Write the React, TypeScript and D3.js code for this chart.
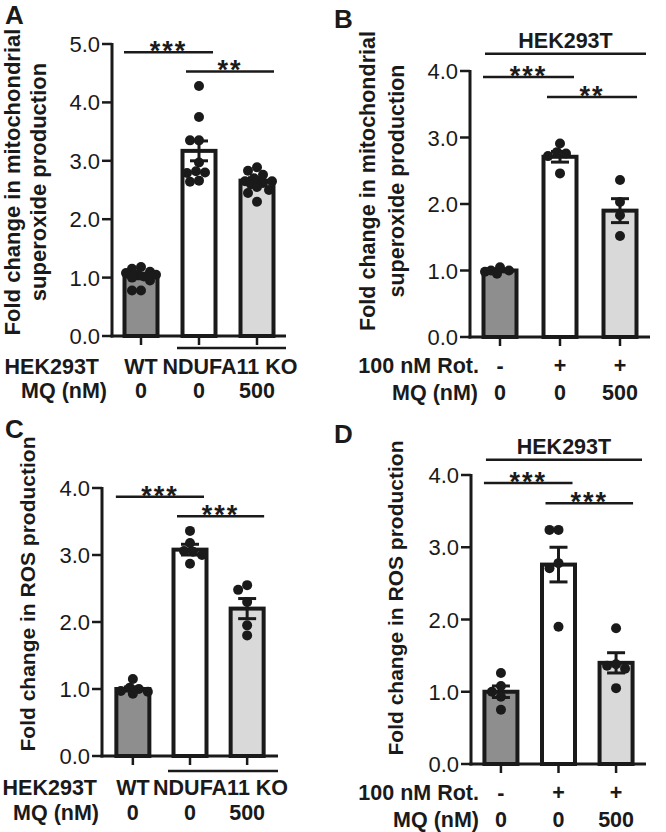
import React from "react";
import * as d3 from "d3";

// ---------------- DATA ----------------
const categories = ["g1", "g2", "g3"];
const yTicksA = [0, 1, 2, 3, 4, 5];
const yTicksBCD = [0, 1, 2, 3, 4];
const barFills = ["#8e8e8e", "#ffffff", "#d9d9d9"];

// Panel A: mitochondrial superoxide, WT vs NDUFA11 KO (+/- MQ)
const aPoints = [
  [1.05, 1.1, 1.02, 0.95, 1.15, 1.18, 1.05, 0.78, 0.78, 1.0, 1.08],
  [4.28, 3.75, 3.35, 3.35, 2.97, 2.82, 2.79, 2.8, 2.64, 2.66],
  [2.89, 2.83, 2.76, 2.7, 2.65, 2.62, 2.6, 2.55, 2.5, 2.45, 2.3, 2.65],
];
const aMeans = [1.02, 3.17, 2.66];
const aSems = [0.04, 0.17, 0.05];

// Panel B: HEK293T + rotenone
const bPoints = [
  [1.05, 1.0, 1.0, 0.95, 0.98],
  [2.91, 2.78, 2.76, 2.72, 2.46],
  [2.36, 2.03, 1.83, 1.52],
];
const bMeans = [1.0, 2.71, 1.9];
const bSems = [0.02, 0.08, 0.18];

// Panel C: ROS production, WT vs NDUFA11 KO
const cPoints = [
  [1.15, 1.02, 1.0, 0.96, 0.93, 0.97],
  [3.36, 3.18, 3.06, 3.05, 3.0, 2.87],
  [2.55, 2.48, 2.3, 1.95, 1.8],
];
const cMeans = [1.0, 3.08, 2.2];
const cSems = [0.03, 0.08, 0.15];

// Panel D: ROS production, HEK293T + rotenone
const dPoints = [
  [1.26, 1.08, 1.0, 0.93, 0.75],
  [3.24, 3.24, 2.78, 2.71, 1.9],
  [1.88, 1.38, 1.36, 1.32, 1.05],
];
const dMeans = [1.0, 2.76, 1.4];
const dSems = [0.08, 0.24, 0.14];

// Labels
const titleSuperoxide = ["Fold change in mitochondrial", "superoxide production"];
const titleROS = ["Fold change in ROS production"];
const rowLabelsKO = ["HEK293T", "MQ (nM)"];
const rowLabelsRot = ["100 nM Rot.", "MQ (nM)"];
const genotypeLabels = ["WT", "NDUFA11 KO"];
const rotLabels = ["-", "+", "+"];
const mqLabels = ["0", "0", "500"];
const headerLabel = "HEK293T";
const sigA = ["***", "**"];
const sigB = ["***", "**"];
const sigC = ["***", "***"];
const sigD = ["***", "***"];

// ---------------- LAYOUT ----------------
const FONT = "'Liberation Sans', Arial, Helvetica, sans-serif";
const INK = "#1a1a1a";

function beeswarm(values: number[], yPix: (v: number) => number, r: number, maxOff: number) {
  const order = values.map((_, i) => i).sort((a, b) => values[b] - values[a]);
  const offs = new Array(values.length).fill(0);
  const placed: { x: number; y: number }[] = [];
  const step = 3;
  const cands: number[] = [0];
  for (let k = 1; k * step <= maxOff; k++) cands.push(-k * step, k * step);
  for (const i of order) {
    const yy = yPix(values[i]);
    let best: number | null = null;
    let bestScore = -1;
    let fallback = 0;
    for (const c of cands) {
      const md = placed.length
        ? Math.min(...placed.map((p) => Math.hypot(p.x - c, p.y - yy)))
        : Infinity;
      if (md >= 2 * r - 1) {
        best = c;
        break;
      }
      if (md > bestScore) {
        bestScore = md;
        fallback = c;
      }
    }
    const x = best === null ? fallback : best;
    offs[i] = x;
    placed.push({ x, y: yy });
  }
  return offs;
}

type Cfg = {
  letter: string;
  letterPos: [number, number];
  points: number[][];
  means: number[];
  sems: number[];
  ticks: number[];
  yMax: number;
  yBottom: number;
  yTop: number;
  xLeft: number;
  xRight: number;
  pad: number;
  title: string[];
  titleX: number[];
  titleY: number;
  titleSize: number;
  sig: string[];
  sigY: number[]; // in data units
  kind: "ko" | "rot";
  rowLabelEnd: number[];
  rowY: number[];
  groupLineY?: number;
  headerY?: number; // data units for header line
};

function Panel({ cfg }: { cfg: Cfg }) {
  const y = d3.scaleLinear().domain([0, cfg.yMax]).range([cfg.yBottom, cfg.yTop]);
  const x = d3.scalePoint<string>().domain(categories).range([cfg.xLeft, cfg.xRight]).padding(cfg.pad);
  const cx = categories.map((c) => x(c) as number);
  const barW = 33;
  const r = 5;
  const capW = 18;
  const rowSize = 21.5;

  const sigSpans: [number, number][] = [
    [cx[0] - 17, cx[1] + 14],
    [cx[1] - 13, cx[2] + 17],
  ];

  return (
    <g fontFamily={FONT} fill={INK}>
      {/* panel letter */}
      <text x={cfg.letterPos[0]} y={cfg.letterPos[1]} fontSize={26} fontWeight="bold">
        {cfg.letter}
      </text>

      {/* y title */}
      {cfg.title.map((t, i) => (
        <text
          key={i}
          transform={`translate(${cfg.titleX[i]},${cfg.titleY}) rotate(-90)`}
          textAnchor="middle"
          fontSize={cfg.titleSize}
          fontWeight="bold"
        >
          {t}
        </text>
      ))}

      {/* bars */}
      {cfg.means.map((m, i) => (
        <rect
          key={i}
          x={cx[i] - barW / 2}
          y={y(m)}
          width={barW}
          height={y(0) - y(m)}
          fill={barFills[i]}
          stroke={INK}
          strokeWidth={4}
        />
      ))}

      {/* error bars */}
      {cfg.means.map((m, i) => (
        <g key={i} stroke={INK} strokeWidth={3}>
          <line x1={cx[i]} x2={cx[i]} y1={y(m + cfg.sems[i])} y2={y(m - cfg.sems[i])} />
          <line x1={cx[i] - capW / 2} x2={cx[i] + capW / 2} y1={y(m + cfg.sems[i])} y2={y(m + cfg.sems[i])} />
          <line x1={cx[i] - capW / 2} x2={cx[i] + capW / 2} y1={y(m - cfg.sems[i])} y2={y(m - cfg.sems[i])} />
        </g>
      ))}

      {/* points */}
      {cfg.points.map((vals, i) => {
        const offs = beeswarm(vals, (v) => y(v), r, 17);
        return vals.map((v, j) => <circle key={`${i}-${j}`} cx={cx[i] + offs[j]} cy={y(v)} r={r} fill={INK} />);
      })}

      {/* y axis */}
      <line x1={cfg.xLeft} x2={cfg.xLeft} y1={y(cfg.yMax) - 1} y2={y(0) + 1.5} stroke={INK} strokeWidth={3} />
      {cfg.ticks.map((t) => (
        <g key={t}>
          <line x1={cfg.xLeft - 10} x2={cfg.xLeft} y1={y(t)} y2={y(t)} stroke={INK} strokeWidth={2.5} />
          <text x={cfg.xLeft - 12} y={y(t) + 8} textAnchor="end" fontSize={22}>
            {d3.format(".1f")(t)}
          </text>
        </g>
      ))}
      {/* x axis */}
      <line x1={cfg.xLeft - 1.5} x2={cfg.xRight} y1={y(0)} y2={y(0)} stroke={INK} strokeWidth={3} />
      {cx.map((c, i) => (
        <line key={i} x1={c} x2={c} y1={y(0)} y2={y(0) + 9} stroke={INK} strokeWidth={2.5} />
      ))}
      {cfg.groupLineY !== undefined && (
        <line x1={cx[1] - 22} x2={cfg.xRight} y1={cfg.groupLineY} y2={cfg.groupLineY} stroke={INK} strokeWidth={2.5} />
      )}

      {/* header */}
      {cfg.headerY !== undefined && (
        <g>
          <line
            x1={cx[0] - 15}
            x2={cfg.xRight - 4}
            y1={y(cfg.headerY)}
            y2={y(cfg.headerY)}
            stroke={INK}
            strokeWidth={2.5}
          />
          <text x={(cx[0] - 15 + cfg.xRight - 4) / 2} y={y(cfg.headerY) - 6} textAnchor="middle" fontSize={rowSize} fontWeight="bold">
            {headerLabel}
          </text>
        </g>
      )}

      {/* significance */}
      {cfg.sig.map((s, i) => (
        <g key={i}>
          <line
            x1={sigSpans[i][0]}
            x2={sigSpans[i][1]}
            y1={y(cfg.sigY[i])}
            y2={y(cfg.sigY[i])}
            stroke={INK}
            strokeWidth={2.5}
          />
          <text
            x={(sigSpans[i][0] + sigSpans[i][1]) / 2}
            y={y(cfg.sigY[i]) + 8}
            textAnchor="middle"
            fontSize={27}
            fontWeight="bold"
            letterSpacing={2}
          >
            {s}
          </text>
        </g>
      ))}

      {/* bottom rows */}
      {(cfg.kind === "ko" ? rowLabelsKO : rowLabelsRot).map((t, i) => (
        <text key={i} x={cfg.rowLabelEnd[i]} y={cfg.rowY[i]} textAnchor="end" fontSize={rowSize} fontWeight="bold">
          {t}
        </text>
      ))}
      {cfg.kind === "ko" ? (
        <g fontSize={rowSize} fontWeight="bold" textAnchor="middle">
          <text x={cx[0]} y={cfg.rowY[0]}>{genotypeLabels[0]}</text>
          <text x={(cx[1] + cx[2]) / 2 + 2} y={cfg.rowY[0]}>{genotypeLabels[1]}</text>
        </g>
      ) : (
        <g fontSize={rowSize} fontWeight="bold" textAnchor="middle">
          {rotLabels.map((t, i) => (
            <text key={i} x={cx[i]} y={cfg.rowY[0]}>{t}</text>
          ))}
        </g>
      )}
      <g fontSize={rowSize} fontWeight="bold" textAnchor="middle">
        {mqLabels.map((t, i) => (
          <text key={i} x={cx[i]} y={cfg.rowY[1]}>{t}</text>
        ))}
      </g>
    </g>
  );
}

const panels: Cfg[] = [
  {
    letter: "A",
    letterPos: [5, 24],
    points: aPoints,
    means: aMeans,
    sems: aSems,
    ticks: yTicksA,
    yMax: 5,
    yBottom: 336,
    yTop: 44,
    xLeft: 112,
    xRight: 286,
    pad: 0.5,
    title: titleSuperoxide,
    titleX: [20, 46],
    titleY: 182,
    titleSize: 22,
    sig: sigA,
    sigY: [4.86, 4.53],
    kind: "ko",
    rowLabelEnd: [99, 107],
    rowY: [374, 398],
    groupLineY: 348,
  },
  {
    letter: "B",
    letterPos: [334, 28],
    points: bPoints,
    means: bMeans,
    sems: bSems,
    ticks: yTicksBCD,
    yMax: 4,
    yBottom: 337,
    yTop: 71,
    xLeft: 470,
    xRight: 650,
    pad: 0.5,
    title: titleSuperoxide,
    titleX: [375, 404],
    titleY: 181,
    titleSize: 21.5,
    sig: sigB,
    sigY: [3.91, 3.61],
    kind: "rot",
    rowLabelEnd: [479, 478],
    rowY: [373, 400],
    headerY: 4.26,
  },
  {
    letter: "C",
    letterPos: [5, 438],
    points: cPoints,
    means: cMeans,
    sems: cSems,
    ticks: yTicksBCD,
    yMax: 4,
    yBottom: 756,
    yTop: 488,
    xLeft: 102,
    xRight: 278,
    pad: 0.54,
    title: titleROS,
    titleX: [35],
    titleY: 594,
    titleSize: 21,
    sig: sigC,
    sigY: [3.87, 3.58],
    kind: "ko",
    rowLabelEnd: [97, 99],
    rowY: [795, 820],
    groupLineY: 771,
  },
  {
    letter: "D",
    letterPos: [334, 443],
    points: dPoints,
    means: dMeans,
    sems: dSems,
    ticks: yTicksBCD,
    yMax: 4,
    yBottom: 764,
    yTop: 475,
    xLeft: 471,
    xRight: 646,
    pad: 0.52,
    title: titleROS,
    titleX: [403],
    titleY: 598,
    titleSize: 21,
    sig: sigD,
    sigY: [3.89, 3.61],
    kind: "rot",
    rowLabelEnd: [479, 479],
    rowY: [800, 827],
    headerY: 4.21,
  },
];

export default function App() {
  return (
    <svg
      width={666}
      height={832}
      viewBox="0 0 666 832"
      style={{ position: "absolute", left: 0, top: 0, background: "#ffffff" }}
    >
      <rect width={666} height={832} fill="#ffffff" />
      {panels.map((p) => (
        <Panel key={p.letter} cfg={p} />
      ))}
    </svg>
  );
}
